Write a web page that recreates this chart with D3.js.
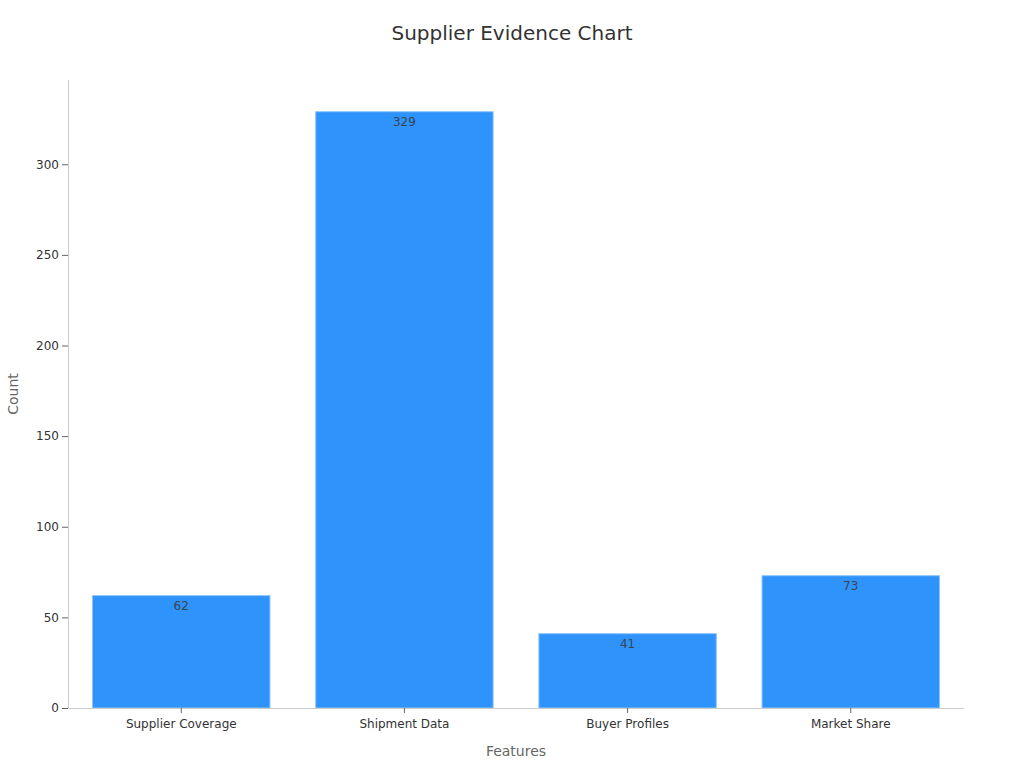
<!DOCTYPE html>
<html>
<head>
<meta charset="utf-8">
<script src="https://cdn.jsdelivr.net/npm/d3@7"></script>
<style>
  body { margin: 0; background: #fff; }
  svg, svg text { font-family: "DejaVu Sans", sans-serif; }
</style>
</head>
<body>
<svg id="chart" width="1024" height="768"></svg>
<script>
var categories = ["Supplier Coverage", "Shipment Data", "Buyer Profiles", "Market Share"];
var counts = [62, 329, 41, 73];
var yTicks = [0, 50, 100, 150, 200, 250, 300];

var svg = d3.select("#chart");
var margin = {top: 80, right: 60, bottom: 60, left: 68},
    width = 1024 - margin.left - margin.right,
    height = 768 - margin.top - margin.bottom;

var g = svg.append("g").attr("transform", "translate(" + margin.left + "," + margin.top + ")");

var x = d3.scaleBand().domain(categories).range([0, width]).paddingInner(0.205).paddingOuter(0.11);
var y = d3.scaleLinear().domain([0, 346.5]).range([height, 0]);

// bars
g.selectAll("rect.bar")
    .data(categories)
    .enter().append("rect")
    .attr("class", "bar")
    .attr("x", function(d) { return x(d); })
    .attr("y", function(d, i) { return y(counts[i]); })
    .attr("width", x.bandwidth())
    .attr("height", function(d, i) { return height - y(counts[i]); })
    .style("fill", "#2e93fa")
    .style("stroke", "#8cc4fb")
    .style("stroke-width", 1);

// value labels, inside the bar top
g.selectAll("text.val")
    .data(categories)
    .enter().append("text")
    .attr("class", "val")
    .attr("x", function(d) { return x(d) + x.bandwidth() / 2; })
    .attr("y", function(d, i) { return y(counts[i]) + 14; })
    .attr("text-anchor", "middle")
    .style("font-size", "12px")
    .style("fill", "#3b4452")
    .text(function(d, i) { return counts[i]; });

// y axis
var yAxis = g.append("g")
    .attr("font-family", "DejaVu Sans, sans-serif")
    .call(d3.axisLeft(y).tickValues(yTicks).tickSize(6).tickPadding(3).tickSizeOuter(0));
yAxis.select(".domain").attr("stroke", "#cccccc").attr("d", "M0.5,0V" + height);
yAxis.selectAll(".tick line").attr("stroke", "#666");
yAxis.selectAll(".tick text").style("font-size", "12px").style("fill", "#333");

// x axis
var xAxis = g.append("g")
    .attr("transform", "translate(0," + height + ")")
    .call(d3.axisBottom(x).tickSize(5).tickPadding(6).tickSizeOuter(0));
xAxis.attr("font-family", "DejaVu Sans, sans-serif");
xAxis.select(".domain").attr("stroke", "#cccccc");
xAxis.selectAll(".tick line").attr("stroke", "#666");
xAxis.selectAll(".tick text").style("font-size", "12px").style("fill", "#333");

// titles
svg.append("text")
    .attr("x", 512).attr("y", 40)
    .attr("text-anchor", "middle")
    .style("font-size", "20px")
    .style("fill", "#333")
    .text("Supplier Evidence Chart");

svg.append("text")
    .attr("x", margin.left + width / 2).attr("y", 756)
    .attr("text-anchor", "middle")
    .style("font-size", "14px")
    .style("fill", "#666")
    .text("Features");

svg.append("text")
    .attr("transform", "translate(18," + (margin.top + height / 2) + ") rotate(-90)")
    .attr("text-anchor", "middle")
    .style("font-size", "14px")
    .style("fill", "#666")
    .text("Count");
</script>
</body>
</html>
